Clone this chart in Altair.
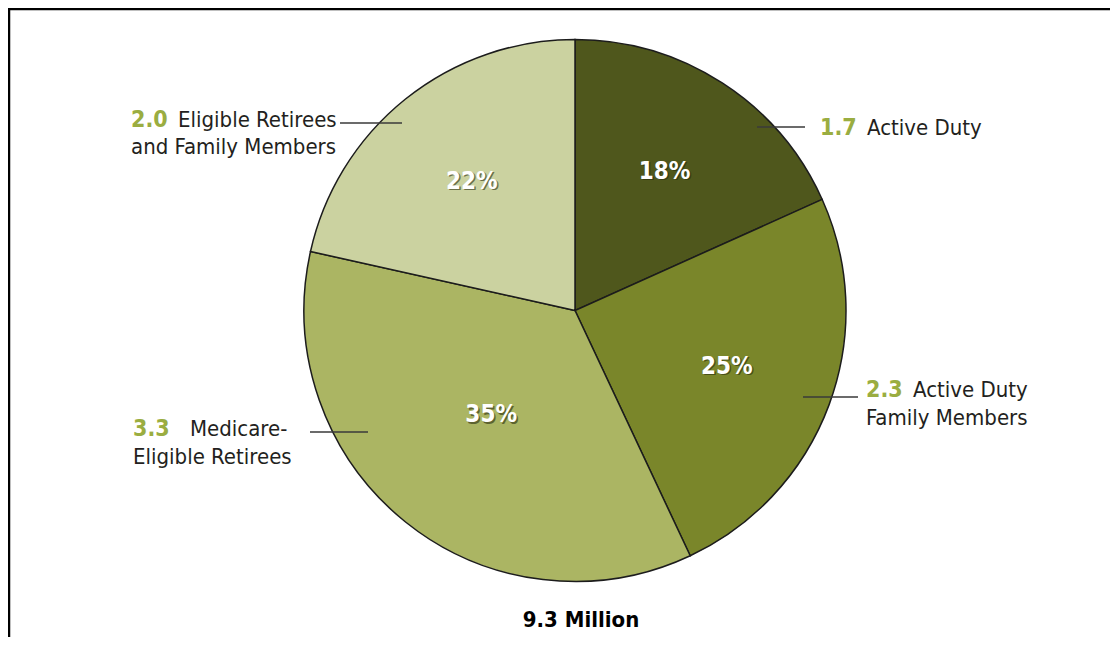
import altair as alt
import pandas as pd
import math

# ---- data ----
categories = [
    "Active Duty",
    "Active Duty Family Members",
    "Medicare-Eligible Retirees",
    "Eligible Retirees and Family Members",
]
values = [1.7, 2.3, 3.3, 2.0]  # millions
label_line1 = ["Active Duty", "Active Duty", "Medicare-", "Eligible Retirees"]
label_line2 = ["", "Family Members", "Eligible Retirees", "and Family Members"]
unit_label = "Million"

# ---- styles / layout ----
colors = ["#4f571c", "#7a862a", "#abb563", "#cbd2a0"]
GREEN = "#9aad41"
DARK = "#231f20"
FONT = "DejaVu Sans Condensed, DejaVu Sans, sans-serif"
W, H = 1102, 629
CX, CY, R = 567, 302.5, 271
pct_radius = [165, 162, 134, 165]
# callout layout: line x1, x2, y ; number x ; text x ; baseline 1 ; baseline 2
call_x1 = [749, 795, 302, 332]
call_x2 = [797, 850, 360, 394]
call_y = [119, 389, 424, 115]
num_x = [812, 858, 125, 123]
txt_x = [859, 905, 182, 170]
base1 = [127, 389, 428, 119]
base2 = [155, 417, 456, 146]

total = sum(values)
df = pd.DataFrame({
    "category": categories,
    "value": values,
    "order": list(range(len(categories))),
    "pct": [f"{round(v / total * 100):d}%" for v in values],
    "num": [f"{v:.1f}" for v in values],
    "line1": label_line1,
    "line2": label_line2,
    "label_r": pct_radius,
    "cx1": call_x1, "cx2": call_x2, "cy": call_y,
    "nx": num_x, "tx": txt_x, "b1": base1, "b2": base2,
})
total_df = pd.DataFrame({"t": [f"{total:.1f} {unit_label}"]})

theta_scale = alt.Scale(domain=[0, total], range=[0, 2 * math.pi])
base = alt.Chart(df)

arcs = base.mark_arc(outerRadius=R, stroke="#1c1c1c", strokeWidth=1.5).encode(
    theta=alt.Theta("value:Q", stack=True, scale=theta_scale),
    order=alt.Order("order:Q"),
    color=alt.Color("category:N", scale=alt.Scale(domain=categories, range=colors), legend=None),
    x=alt.value(CX), y=alt.value(CY),
)

pct_base = base.transform_window(
    cum="sum(value)", sort=[alt.SortField("order")], frame=[None, 0]
).transform_calculate(mid="datum.cum - datum.value / 2")

pct_common = dict(
    theta=alt.Theta("mid:Q", stack=None, scale=theta_scale),
    radius=alt.Radius("label_r:Q", scale=None),
    text="pct:N",
    x=alt.value(CX), y=alt.value(CY),
)
pct_shadow = pct_base.mark_text(font=FONT, fontSize=24, fontWeight="bold", color="#2a2e0e",
                                opacity=0.6, dx=1.5, dy=1.5).encode(**pct_common)
pct_text = pct_base.mark_text(font=FONT, fontSize=24, fontWeight="bold", color="white").encode(**pct_common)

callouts = base.mark_rule(color="#3a3a3a", strokeWidth=1.4).encode(
    x=alt.X("cx1:Q", scale=None), x2="cx2:Q", y=alt.Y("cy:Q", scale=None)
)

nums = base.mark_text(font=FONT, fontSize=23, fontWeight="bold", color=GREEN,
                      align="left", baseline="alphabetic").encode(
    x=alt.X("nx:Q", scale=None), y=alt.Y("b1:Q", scale=None), text="num:N"
)
line1 = base.mark_text(font=FONT, fontSize=22, color=DARK, align="left", baseline="alphabetic").encode(
    x=alt.X("tx:Q", scale=None), y=alt.Y("b1:Q", scale=None), text="line1:N"
)
line2 = base.mark_text(font=FONT, fontSize=22, color=DARK, align="left", baseline="alphabetic").encode(
    x=alt.X("nx:Q", scale=None), y=alt.Y("b2:Q", scale=None), text="line2:N"
)

total_text = alt.Chart(total_df).mark_text(font=FONT, fontSize=22, fontWeight="bold", color="black",
                                           align="center", baseline="alphabetic").encode(
    x=alt.value(573), y=alt.value(619), text="t:N"
)

frame_top = alt.Chart(total_df).mark_rule(color="black", strokeWidth=2.5).encode(
    x=alt.value(0), x2=alt.value(W), y=alt.value(1)
)
frame_left = alt.Chart(total_df).mark_rule(color="black", strokeWidth=2.5).encode(
    x=alt.value(1), y=alt.value(0), y2=alt.value(H)
)

chart = alt.layer(
    arcs, pct_shadow, pct_text, callouts, nums, line1, line2, total_text, frame_top, frame_left
).properties(width=W, height=H, padding=0, autosize="none").configure_view(stroke=None)

chart.save("out.html", embed_options={"renderer": "svg", "actions": False})
